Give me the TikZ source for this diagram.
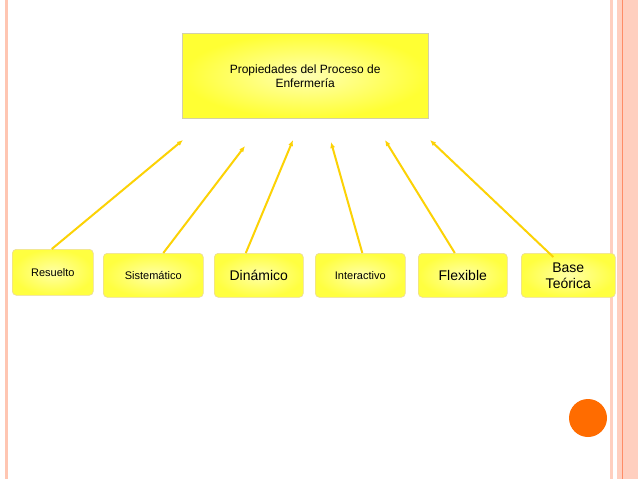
\documentclass[tikz,border=0pt]{standalone}
\usepackage{fontspec}
\setmainfont{Liberation Sans}
\usetikzlibrary{arrows.meta}
\begin{document}
\begin{tikzpicture}[x=1pt,y=-1pt,
  box/.style={draw=yellow!60!orange!80!black!40,line width=0.6pt,inner color=yellow!35,outer color=yellow!75,rounded corners=4pt,align=center,anchor=north west,minimum height=44pt},
  top/.style={draw=yellow!50!black!40,inner color=yellow!30,outer color=yellow!80,align=center},
  arr/.style={-{Latex[length=6pt,width=5pt]},draw=yellow!70!orange,line width=2pt}]
\useasboundingbox (0,0) rectangle (638,479);
\fill[white] (0,0) rectangle (638,479);
\fill[red!50!orange!30] (5,0) rectangle (8,479);
\fill[red!50!orange!25] (610,0) rectangle (613,479);
\fill[red!50!orange!25] (617,0) rectangle (638,479);
\draw[red!50!orange!60,line width=0.6pt] (622,0) -- (622,479);
\fill[orange!85!red] (588,418) circle (19);
\node[top,minimum width=246pt,minimum height=85pt,anchor=north west,font=\fontsize{12}{14}\selectfont,text depth=0pt] (t) at (182,33) {Propiedades del Proceso de\\Enfermería};
\node[box,minimum width=81pt,minimum height=46pt,font=\fontsize{11}{13}\selectfont] (a) at (12,249) {Resuelto};
\node[box,minimum width=100pt,font=\fontsize{11}{13}\selectfont] (b) at (103,253) {Sistemático};
\node[box,minimum width=89pt,font=\fontsize{14}{16}\selectfont] (c) at (214,253) {Dinámico};
\node[box,minimum width=90pt,font=\fontsize{11}{13}\selectfont] (d) at (315,253) {Interactivo};
\node[box,minimum width=89pt,font=\fontsize{14}{16}\selectfont] (e) at (418,253) {Flexible};
\node[box,minimum width=94pt,font=\fontsize{14}{16}\selectfont] (f) at (521,253) {Base\\Teórica};
\coordinate (ta) at (183,140);
\coordinate (tb) at (245,146);
\coordinate (tc) at (293,140);
\coordinate (td) at (331,142);
\coordinate (te) at (385,140);
\coordinate (tf) at (430,140);
\draw[arr] ([xshift=-1pt]a.north) -- (ta);
\draw[arr] ([xshift=10pt]b.north) -- (tb);
\draw[arr] ([xshift=-13pt]c.north) -- (tc);
\draw[arr] ([xshift=2pt]d.north) -- (td);
\draw[arr] ([xshift=-8pt]e.north) -- (te);
\draw[arr] ([xshift=-15pt,yshift=-4pt]f.north) -- (tf);
\end{tikzpicture}
\end{document}
